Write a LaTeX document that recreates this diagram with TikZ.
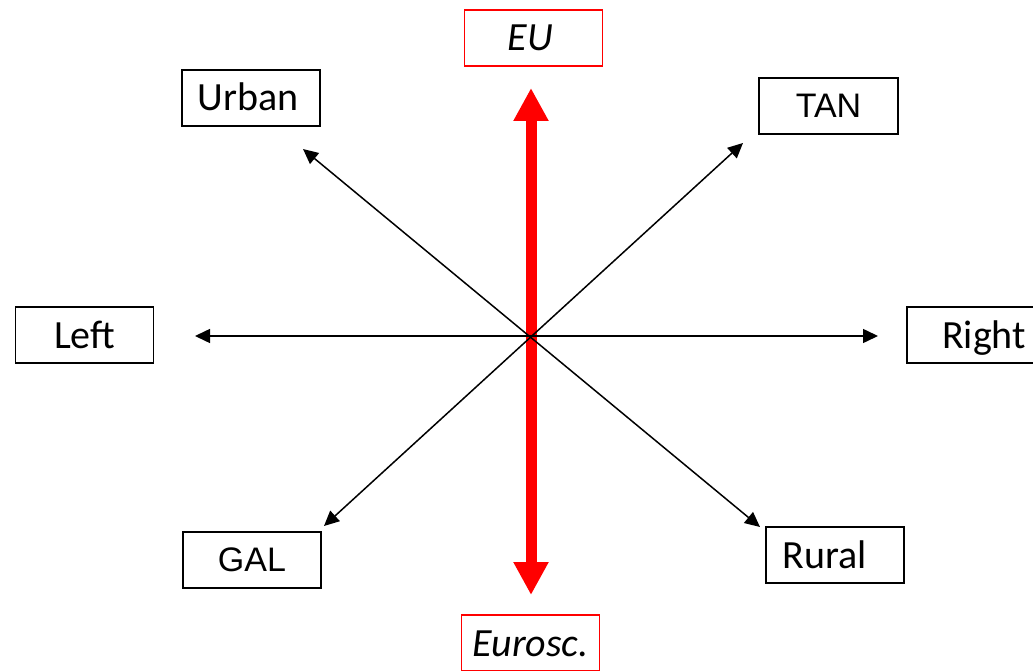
\documentclass[tikz,border=0pt]{standalone}
\usepackage{fontspec}
\setmainfont{Carlito}
\newfontfamily\arialfont{Liberation Sans}
\usetikzlibrary{arrows.meta}
\begin{document}
\begin{tikzpicture}[x=1pt,y=-1pt,
  lab/.style={draw=black, line width=1.8pt, minimum width=138pt, minimum height=56pt,
    inner sep=0pt, text height=26pt, text depth=0pt, font=\fontsize{40}{42}\selectfont},
  redlab/.style={lab, draw={rgb,255:red,255;green,0;blue,0}, line width=1.3pt, font=\fontsize{40}{42}\selectfont\itshape},
  arlab/.style={lab, text height=23pt, font=\fontsize{34}{36}\selectfont\arialfont},
  axis/.style={line width=1.5pt, {Triangle[length=15pt,width=14pt]}-{Triangle[length=15pt,width=14pt]}},
  euaxis/.style={line width=11pt, draw={rgb,255:red,255;green,0;blue,0},
    {Triangle[length=33pt,width=33pt]}-{Triangle[length=33pt,width=33pt]}}]
\useasboundingbox (0,0) rectangle (1033,671);
\fill[white] (0,0) rectangle (1033,671);

\node[redlab] (eu) at (533.5,38) {EU\kern6pt};
\node[redlab] (eurosc) at (530.5,643) {Eurosc.};
\node[lab] (urban) at (251,98) {Urban\kern6pt};
\node[arlab, minimum width=139pt] (tan) at (828.5,106) {TAN};
\node[lab] (left) at (84.5,335) {Left};
\node[lab] (right) at (976,335) {\kern16pt Right};
\node[arlab] (gal) at (252,560) {GAL};
\node[lab] (rural) at (835,555) {Rural\kern20pt};

\coordinate (c) at (531,336);
\coordinate (tEU) at (531,88);
\coordinate (tEurosc) at (531,595);
\coordinate (tUrban) at (303,149);
\coordinate (tRural) at (760,527);
\coordinate (tTAN) at (743,143);
\coordinate (tGAL) at (324,526);
\coordinate (tLeft) at (195,336);
\coordinate (tRight) at (878,336);

\draw[euaxis] (tEurosc) -- (tEU);
\draw[axis] (tLeft) -- (tRight);
\draw[axis] (tUrban) -- (tRural);
\draw[axis] (tGAL) -- (tTAN);
\end{tikzpicture}
\end{document}
